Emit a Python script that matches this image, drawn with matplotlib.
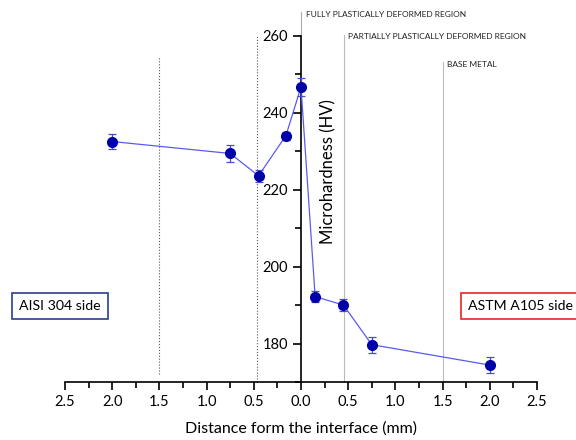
import matplotlib
matplotlib.use('Agg')
import matplotlib.pyplot as plt
from matplotlib.ticker import MultipleLocator, FuncFormatter

plt.rcParams['font.family'] = ['Lato', 'DejaVu Sans']

# distance from interface (negative = AISI 304 side)
dist = [-2.0, -0.75, -0.45, -0.16, 0.0, 0.15, 0.45, 0.75, 2.0]
hv = [232.5, 229.4, 223.6, 234.0, 246.7, 192.2, 190.0, 179.7, 174.4]
hv_err = [2.0, 2.2, 1.6, 1.0, 2.4, 1.4, 1.6, 2.1, 2.0]

region_x = [-1.5, -0.47, 0.0, 0.46, 1.5]
region_names = ['FULLY PLASTICALLY DEFORMED REGION',
                'PARTIALLY PLASTICALLY DEFORMED REGION',
                'BASE METAL']

fig = plt.figure(figsize=(5.76, 4.4), dpi=100)
ax = fig.add_axes([0.1128, 0.1318, 0.8195, 0.787])

# region boundary lines
ax.plot([region_x[0]] * 2, [172.0, 254.5], ls=':', color='#555555', lw=0.8, clip_on=False)
ax.plot([region_x[1]] * 2, [170, 260.3], ls=':', color='#555555', lw=0.8, clip_on=False)
ax.plot([region_x[2]] * 2, [260, 266.2], ls='-', color='#aaaaaa', lw=0.8, clip_on=False)
ax.plot([region_x[3]] * 2, [170, 260.3], ls='-', color='#bbbbbb', lw=0.8, clip_on=False)
ax.plot([region_x[4]] * 2, [170, 253.2], ls='-', color='#bbbbbb', lw=0.8, clip_on=False)

ax.text(0.05, 265.5, region_names[0], fontsize=6, va='center', ha='left', color='#222222')
ax.text(0.5, 259.7, region_names[1], fontsize=6, va='center', ha='left', color='#222222')
ax.text(1.55, 252.5, region_names[2], fontsize=6, va='center', ha='left', color='#222222')

ax.plot(dist, hv, color='#5a5af0', lw=0.9, zorder=3)
ax.errorbar(dist, hv, yerr=hv_err, fmt='o', color='#0000a8', ms=7,
            ecolor='#4a4ad8', elinewidth=0.9, capsize=3, capthick=0.9, zorder=4)

ax.set_xlim(-2.5, 2.5)
ax.set_ylim(170, 260)
ax.spines['top'].set_visible(False)
ax.spines['right'].set_visible(False)
ax.spines['left'].set_position(('data', 0))
ax.spines['left'].set_bounds(170, 260)
for s in ['left', 'bottom']:
    ax.spines[s].set_linewidth(1.2)

ax.xaxis.set_major_locator(MultipleLocator(0.5))
ax.xaxis.set_minor_locator(MultipleLocator(0.25))
ax.xaxis.set_major_formatter(FuncFormatter(lambda v, p: '%.1f' % abs(v)))
ax.set_yticks([180, 200, 220, 240, 260])
ax.yaxis.set_minor_locator(MultipleLocator(10))
ax.tick_params(which='major', direction='out', length=6, width=1.2, labelsize=10.5)
ax.tick_params(which='minor', direction='out', length=4, width=1.2)
ax.tick_params(axis='x', pad=3)

ax.set_xlabel('Distance form the interface (mm)', fontsize=11.5, labelpad=9)
ax.text(0.29, 224.7, 'Microhardness (HV)', rotation=90, fontsize=12, ha='center', va='center')

fig.text(60 / 576, 1 - 306 / 440, 'AISI 304 side', fontsize=10.2, ha='center', va='center',
         bbox=dict(boxstyle='square,pad=0.5', fc='white', ec='#2a3f8f', lw=1.2))
fig.text(521 / 576, 1 - 306 / 440, 'ASTM A105 side', fontsize=10.2, ha='center', va='center',
         bbox=dict(boxstyle='square,pad=0.5', fc='white', ec='#ee2222', lw=1.2))

fig.savefig('out.png', dpi=100)
